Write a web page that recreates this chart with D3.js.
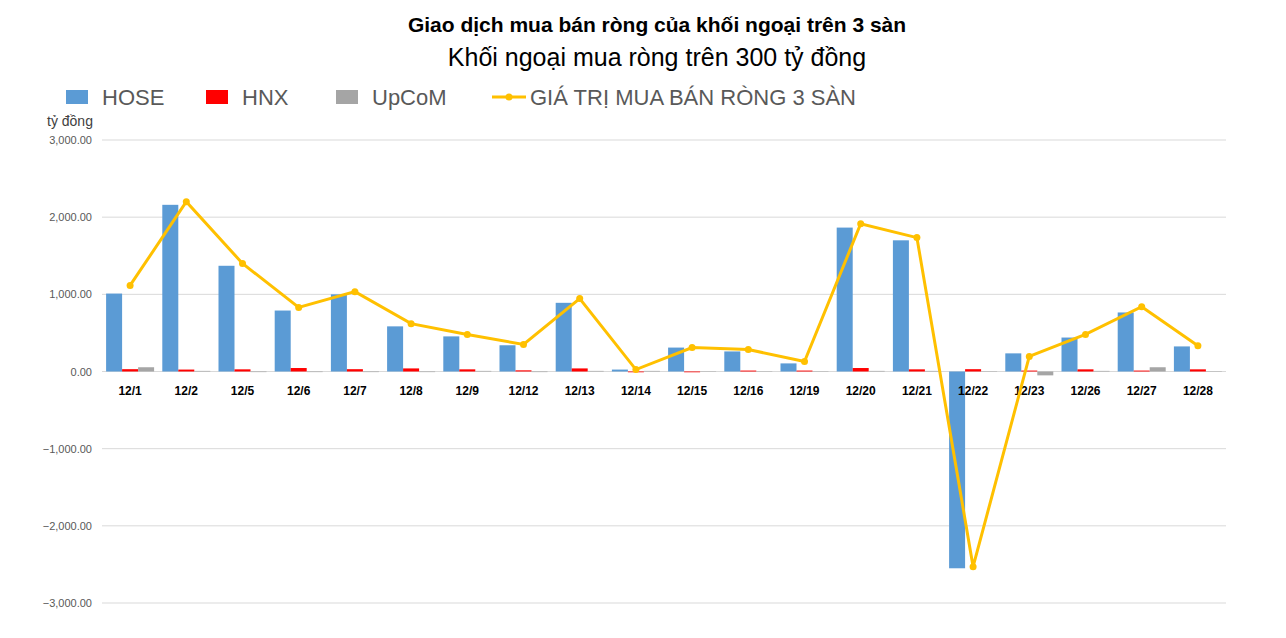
<!DOCTYPE html><html><head><meta charset="utf-8"><script src="https://cdn.jsdelivr.net/npm/d3@7"></script>
<style>body{margin:0;background:#fff;font-family:Arial,"Liberation Sans",sans-serif}</style></head><body><svg id="c" width="1286" height="638"></svg><script>
const categories=["12/1","12/2","12/5","12/6","12/7","12/8","12/9","12/12","12/13","12/14","12/15","12/16","12/19","12/20","12/21","12/22","12/23","12/26","12/27","12/28"];
const hose=[1010,2160,1370,790,1000,585,455,340,890,25,310,260,105,1865,1700,-2550,235,440,765,325];
const hnx=[30,25,28,45,30,40,28,15,40,-10,-10,12,12,45,28,30,12,28,12,28];
const upcom=[55,8,-8,-8,-8,-8,8,-8,8,8,-5,-5,-5,8,8,-5,-50,8,55,-5];
const total=[1115,2200,1400,830,1035,620,480,350,945,25,310,285,130,1915,1735,-2530,195,480,840,335];
const ticks=[3000,2000,1000,0,-1000,-2000,-3000];
const svg=d3.select("#c");
const y=d3.scaleLinear().domain([-3000,3000]).range([603,140]);
const x=d3.scaleBand().domain(categories).range([102,1226]);
const g=svg.append("g");
ticks.forEach(t=>{g.append("line").attr("x1",102).attr("x2",1226).attr("y1",y(t)).attr("y2",y(t)).attr("stroke","#d9d9d9");
g.append("text").attr("x",92).attr("y",y(t)+4).attr("text-anchor","end").attr("font-size",11).attr("fill","#595959").text(d3.format(",.2f")(t));});
const bw=16, series=[[hose,"#5b9bd5"],[hnx,"#ff0000"],[upcom,"#a5a5a5"]];
series.forEach(([arr,col],si)=>{svg.selectAll(null).data(arr).join("rect")
.attr("x",(d,i)=>x(categories[i])+x.bandwidth()/2-24+si*bw).attr("width",bw)
.attr("y",d=>y(Math.max(0,d))).attr("height",d=>Math.abs(y(d)-y(0))).attr("fill",col);});
svg.append("g").selectAll("text").data(categories).join("text").attr("x",d=>x(d)+x.bandwidth()/2).attr("y",395)
.attr("text-anchor","middle").attr("font-size",12).attr("font-weight","bold").attr("fill","#000").text(d=>d);
const line=d3.line().x((d,i)=>x(categories[i])+x.bandwidth()/2).y(d=>y(d));
svg.append("path").datum(total).attr("d",line).attr("fill","none").attr("stroke","#ffc000").attr("stroke-width",3);
svg.selectAll(null).data(total).join("circle").attr("cx",(d,i)=>x(categories[i])+x.bandwidth()/2).attr("cy",d=>y(d)).attr("r",3.5).attr("fill","#ffc000");
svg.append("text").attr("x",657).attr("y",32).attr("text-anchor","middle").attr("font-size",21).attr("font-weight","bold").text("Giao dịch mua bán ròng của khối ngoại trên 3 sàn");
svg.append("text").attr("x",657).attr("y",66).attr("text-anchor","middle").attr("font-size",25).text("Khối ngoại mua ròng trên 300 tỷ đồng");
const leg=[["HOSE","#5b9bd5",66,"r"],["HNX","#ff0000",206,"r"],["UpCoM","#a5a5a5",336,"r"],["GIÁ TRỊ MUA BÁN RÒNG 3 SÀN","#ffc000",492,"l"]];
leg.forEach(([t,c,lx,k])=>{if(k=="r"){svg.append("rect").attr("x",lx).attr("y",90).attr("width",22).attr("height",14).attr("fill",c);}
else{svg.append("line").attr("x1",lx).attr("x2",lx+34).attr("y1",97).attr("y2",97).attr("stroke",c).attr("stroke-width",3);svg.append("circle").attr("cx",lx+17).attr("cy",97).attr("r",3.5).attr("fill",c);}
svg.append("text").attr("x",lx+(k=="r"?36:38)).attr("y",105).attr("font-size",22).attr("fill","#595959").text(t);});
svg.append("text").attr("x",47).attr("y",126).attr("font-size",14).attr("fill","#404040").text("tỷ đồng");
</script></body></html>
